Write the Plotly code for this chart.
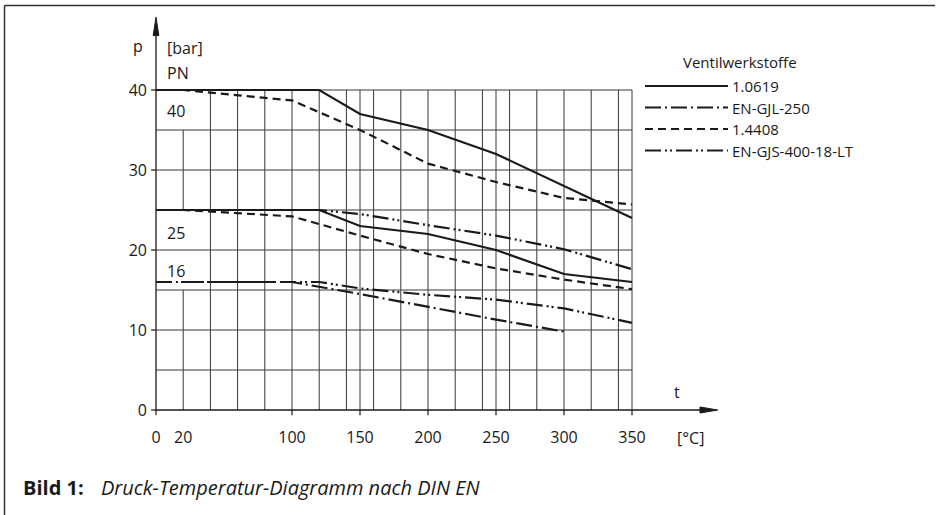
import plotly.graph_objects as go

# ---------------- data ----------------
t_1_0619 = [0, 120, 150, 200, 250, 300, 350]
p_1_0619_pn40 = [40, 40, 37, 35, 32, 28, 24]
p_1_0619_pn25 = [25, 25, 23, 22, 20, 17, 16]

t_1_4408 = [0, 20, 100, 150, 200, 250, 300, 350]
p_1_4408_pn40 = [40, 40, 38.7, 35, 30.8, 28.5, 26.5, 25.7]
p_1_4408_pn25 = [25, 25, 24.2, 21.8, 19.5, 17.7, 16.3, 15.1]

t_gjl250 = [0, 100, 150, 200, 250, 300]
p_gjl250_pn16 = [16, 16, 14.5, 12.9, 11.3, 9.8]

t_gjs400 = [0, 120, 150, 200, 250, 300, 350]
p_gjs400_pn25 = [25, 25, 24.5, 23.1, 21.8, 20.1, 17.6]
p_gjs400_pn16 = [16, 16, 15.2, 14.4, 13.8, 12.7, 10.9]

x_tick_vals = [0, 20, 100, 150, 200, 250, 300, 350]
x_tick_text = ["0", "20", "100", "150", "200", "250", "300", "350"]
y_tick_vals = [0, 10, 20, 30, 40]
pn_labels = ["40", "25", "16"]
pn_label_y = [37.4, 22.1, 17.4]

legend_names = ["1.0619", "EN-GJL-250", "1.4408", "EN-GJS-400-18-LT"]

# ---------------- styles ----------------
FONT = "Open Sans"
INK = "#1a1a1a"
GRID = "#383838"
LW = 2.2
DASHES = {
    "1.0619": "solid",
    "EN-GJL-250": "16px,4px,2px,4px",
    "1.4408": "8px,5px",
    "EN-GJS-400-18-LT": "16px,4px,2px,3px,2px,4px",
}

# geometry of the plot area (pixels)
W, H = 939, 515
L, R, T, B = 148, 217, 10, 97
PW, PH = W - L - R, H - T - B
XMIN, XMAX = -8 / 1.36, (722 - 156) / 1.36
YMIN, YMAX = -1, 50


def px(xp):
    return (xp - L) / PW


def py(yp):
    return (H - B - yp) / PH


fig = go.Figure()

series = [
    ("1.0619", t_1_0619, p_1_0619_pn40),
    ("1.0619", t_1_0619, p_1_0619_pn25),
    ("1.4408", t_1_4408, p_1_4408_pn40),
    ("1.4408", t_1_4408, p_1_4408_pn25),
    ("EN-GJL-250", t_gjl250, p_gjl250_pn16),
    ("EN-GJS-400-18-LT", t_gjs400, p_gjs400_pn25),
    ("EN-GJS-400-18-LT", t_gjs400, p_gjs400_pn16),
]
for name, xs, ys in series:
    fig.add_trace(go.Scatter(
        x=xs, y=ys, mode="lines", name=name, showlegend=False,
        line=dict(color=INK, width=LW, dash=DASHES[name]),
        hoverinfo="x+y+name",
    ))

shapes = []
# horizontal grid lines every 5 bar up to 40
for yv in range(5, 45, 5):
    shapes.append(dict(type="line", xref="x", yref="y", x0=0, x1=350, y0=yv, y1=yv,
                       line=dict(color=GRID, width=1), layer="below"))
# vertical grid lines every 20 °C plus the labelled 150/250/350
grid_x = sorted(set(list(range(20, 360, 20)) + [150, 250, 350]))
for xv in grid_x:
    segs = [(0, 15), (25, 35)] if xv == 20 else [(0, 40)]
    for a, b in segs:
        shapes.append(dict(type="line", xref="x", yref="y", x0=xv, x1=xv, y0=a, y1=b,
                           line=dict(color=GRID, width=1), layer="below"))
# axes with arrows
shapes.append(dict(type="line", xref="x", yref="y", x0=0, x1=402, y0=0, y1=0,
                   line=dict(color=INK, width=1.3)))
shapes.append(dict(type="line", xref="x", yref="y", x0=0, x1=0, y0=0, y1=47.5,
                   line=dict(color=INK, width=1.3)))
shapes.append(dict(type="path", xref="x", yref="y",
                   path="M 400,-0.38 L 413,0 L 400,0.38 Z",
                   fillcolor=INK, line=dict(color=INK, width=1)))
shapes.append(dict(type="path", xref="x", yref="y",
                   path="M -2.1,46.8 L 0,49.1 L 2.1,46.8 Z",
                   fillcolor=INK, line=dict(color=INK, width=1)))
# tick marks
for yv in y_tick_vals:
    shapes.append(dict(type="line", xref="x", yref="y", x0=-3.6, x1=0, y0=yv, y1=yv,
                       line=dict(color=INK, width=1.2)))
for xv in x_tick_vals:
    if xv == 20:
        continue
    shapes.append(dict(type="line", xref="x", yref="y", x0=xv, x1=xv, y0=-0.65, y1=0,
                       line=dict(color=INK, width=1.2)))
# frame of the figure
shapes.append(dict(type="line", xref="paper", yref="paper", x0=px(4.5), x1=px(4.5),
                   y0=py(5.5), y1=py(516), line=dict(color="#333", width=1.5)))
shapes.append(dict(type="line", xref="paper", yref="paper", x0=px(4.5), x1=px(935),
                   y0=py(5.5), y1=py(5.5), line=dict(color="#333", width=1.5)))

# legend samples
leg_rows = [86, 107.5, 129, 150.5]
for name, yr in zip(legend_names, leg_rows):
    shapes.append(dict(type="line", xref="paper", yref="paper", x0=px(645), x1=px(728),
                       y0=py(yr), y1=py(yr),
                       line=dict(color=INK, width=LW, dash=DASHES[name])))

annotations = []
tf = dict(family=FONT, size=16, color=INK)
lf = dict(family=FONT, size=15, color=INK)
for name, yr in zip(legend_names, leg_rows):
    annotations.append(dict(xref="paper", yref="paper", x=px(730), y=py(yr), text=name,
                            showarrow=False, xanchor="left", yanchor="middle", font=lf))
annotations.append(dict(xref="paper", yref="paper", x=px(681), y=py(62), text="Ventilwerkstoffe",
                        showarrow=False, xanchor="left", yanchor="middle", font=lf))
# axis labels
annotations.append(dict(xref="paper", yref="paper", x=px(137.5), y=py(46), text="p",
                        showarrow=False, xanchor="center", yanchor="middle", font=tf))
annotations.append(dict(xref="x", yref="y", x=6.5, y=45.3, text="[bar]",
                        showarrow=False, xanchor="left", yanchor="middle", font=tf))
annotations.append(dict(xref="x", yref="y", x=6.5, y=42.1, text="PN",
                        showarrow=False, xanchor="left", yanchor="middle", font=tf))
for lab, yv in zip(pn_labels, pn_label_y):
    annotations.append(dict(xref="x", yref="y", x=6.5, y=yv, text=lab,
                            showarrow=False, xanchor="left", yanchor="middle", font=tf))
annotations.append(dict(xref="x", yref="y", x=383, y=2.2, text="t",
                        showarrow=False, xanchor="center", yanchor="middle", font=tf))
annotations.append(dict(xref="paper", yref="paper", x=px(690), y=py(438), text="[°C]",
                        showarrow=False, xanchor="center", yanchor="middle", font=tf))
# caption
annotations.append(dict(xref="paper", yref="paper", x=px(21), y=py(487),
                        text="<b>Bild 1:</b>", showarrow=False, xanchor="left", yanchor="middle",
                        font=dict(family=FONT, size=20, color=INK)))
annotations.append(dict(xref="paper", yref="paper", x=px(99), y=py(487),
                        text="<i>Druck-Temperatur-Diagramm nach DIN EN</i>",
                        showarrow=False, xanchor="left", yanchor="middle",
                        font=dict(family=FONT, size=20, color=INK)))

fig.update_layout(
    width=W, height=H,
    margin=dict(l=L, r=R, t=T, b=B, pad=0),
    paper_bgcolor="white", plot_bgcolor="white",
    shapes=shapes, annotations=annotations,
    showlegend=False,
    xaxis=dict(range=[XMIN, XMAX], showgrid=False, zeroline=False, showline=False,
               ticks="", tickvals=x_tick_vals, ticktext=x_tick_text,
               tickfont=tf, ticklabelstandoff=8, fixedrange=True),
    yaxis=dict(range=[YMIN, YMAX], showgrid=False, zeroline=False, showline=False,
               ticks="", tickvals=y_tick_vals, ticktext=[str(v) for v in y_tick_vals],
               tickfont=tf, ticklabelstandoff=0, fixedrange=True),
)

fig.write_html("out.html", config={"displayModeBar": False},
               post_script="document.body.style.margin='0px';document.body.style.overflow='hidden';")
